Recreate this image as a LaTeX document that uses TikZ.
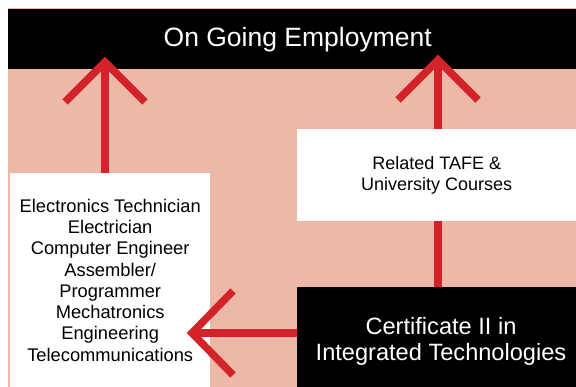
\documentclass[tikz,border=0pt]{standalone}
\usepackage{fontspec}
\setmainfont{Liberation Sans}
\usetikzlibrary{calc}
\definecolor{salmonbg}{HTML}{EEB8A6}
\definecolor{arrowred}{HTML}{D2232A}
\begin{document}
\begin{tikzpicture}[x=1pt,y=-1pt,
  panel/.style={inner sep=0pt, anchor=north west, align=center},
  whitepanel/.style={panel, fill=white, text=black},
  blackpanel/.style={panel, fill=black, text=white},
  shaft/.style={draw=arrowred, line width=7.5pt, line cap=butt},
  chevron/.style={draw=arrowred, line width=7.5pt, line cap=butt, line join=miter}]
\useasboundingbox (0,0) rectangle (576,387);
\fill[salmonbg] (8,8) rectangle (576,387);
% boxes
\node[blackpanel, minimum width=568pt, minimum height=60pt,
      font=\fontsize{26.5}{30}\selectfont] (top) at (8,9)
      {\hspace*{11pt}On Going Employment};
\node[whitepanel, minimum width=200pt, minimum height=214pt,
      font=\fontsize{18.3}{21.3}\selectfont] (jobs) at (10,173)
      {Electronics Technician\\Electrician\\Computer Engineer\\Assembler/\\Programmer\\Mechatronics\\Engineering\\Telecommunications};
\node[whitepanel, minimum width=279pt, minimum height=92pt,
      font=\fontsize{18}{21}\selectfont] (tafe) at (297,129)
      {Related TAFE \&\\University Courses};
\node[blackpanel, minimum width=279pt, minimum height=100pt] (cert) at (297,287) {};
\node[text=white, align=center, inner sep=0pt,
      font=\fontsize{23.6}{26.7}\selectfont] (certtext) at (441,341.5)
      {Certificate II in\\Integrated Technologies};
% arrow tips
\coordinate (tipL) at (105,62);
\coordinate (tipR) at (438,60);
\coordinate (tipH) at (192,333);
% left vertical arrow
\draw[shaft] (jobs.north -| tipL) -- (tipL);
\draw[chevron] ($(tipL)+(-40,40)$) -- (tipL) -- ($(tipL)+(40,40)$);
% right vertical arrow
\draw[shaft] (cert.north -| tipR) -- (tafe.south -| tipR);
\draw[shaft] (tafe.north -| tipR) -- (tipR);
\draw[chevron] ($(tipR)+(-40,40)$) -- (tipR) -- ($(tipR)+(40,40)$);
% horizontal arrow
\draw[shaft] (cert.west |- tipH) -- (tipH);
\draw[chevron] ($(tipH)+(41,-42)$) -- (tipH) -- ($(tipH)+(41,42)$);
\end{tikzpicture}
\end{document}
